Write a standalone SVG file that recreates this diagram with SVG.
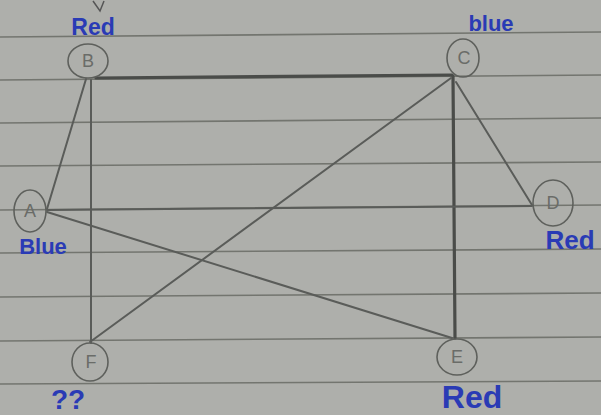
<svg xmlns="http://www.w3.org/2000/svg" width="601" height="415" viewBox="0 0 601 415">
<defs>
<style>
.paper{fill:#aeafab}
.rule{stroke:#73756f;stroke-width:1.6}
.edge{stroke:#5a5c59;stroke-width:2;stroke-linecap:round;fill:none}
.thick{stroke:#4a4c49;stroke-width:3.2}
.node circle,.node ellipse{fill:none;stroke:#5e605c;stroke-width:1.6}
.node text{font-family:"Liberation Sans",Arial,sans-serif;font-size:18px;fill:#6a6c68;text-anchor:middle}
.lbl{font-family:"Liberation Sans",Arial,sans-serif;fill:#2a3bb5;font-weight:bold}
</style>
</defs>
<rect class="paper" x="0" y="0" width="601" height="415"/>
<g id="rules">
<line class="rule" x1="0" y1="37" x2="601" y2="32"/>
<line class="rule" x1="0" y1="80" x2="601" y2="75"/>
<line class="rule" x1="0" y1="123" x2="601" y2="118"/>
<line class="rule" x1="0" y1="166" x2="601" y2="162"/>
<line class="rule" x1="0" y1="210" x2="601" y2="205"/>
<line class="rule" x1="0" y1="253" x2="601" y2="249"/>
<line class="rule" x1="0" y1="297" x2="601" y2="293"/>
<line class="rule" x1="0" y1="341" x2="601" y2="337"/>
<line class="rule" x1="0" y1="384" x2="601" y2="381"/>
</g>
<path d="M93 1 L100 11 L104 1" fill="none" stroke="#555" stroke-width="1.5"/>
<g id="connectors">
<line class="edge thick" x1="96" y1="78" x2="452" y2="75"/>
<line class="edge" x1="86" y1="79" x2="47" y2="209"/>
<line class="edge" x1="91" y1="80" x2="91" y2="343"/>
<line class="edge thick" x1="453" y1="76" x2="455" y2="338"/>
<line class="edge" x1="456" y1="82" x2="532" y2="205"/>
<line class="edge" x1="451" y1="78" x2="90" y2="342"/>
<line class="edge" x1="47" y1="210" x2="532" y2="206"/>
<line class="edge" x1="47" y1="212" x2="452" y2="338"/>
</g>
<g id="node-B" class="node"><ellipse cx="88" cy="61" rx="20" ry="17"/><text x="88" y="67">B</text></g>
<g id="node-C" class="node"><ellipse cx="463" cy="58" rx="16" ry="19"/><text x="464" y="64">C</text></g>
<g id="node-A" class="node"><ellipse cx="30" cy="211" rx="16" ry="21"/><text x="30" y="217">A</text></g>
<g id="node-D" class="node"><ellipse cx="553" cy="203" rx="20" ry="23"/><text x="553" y="209">D</text></g>
<g id="node-F" class="node"><ellipse cx="90" cy="362" rx="18" ry="19"/><text x="91" y="368">F</text></g>
<g id="node-E" class="node"><ellipse cx="457" cy="357" rx="20" ry="18"/><text x="457" y="363">E</text></g>
<g id="labels">
<text class="lbl" x="93" y="35" font-size="23" text-anchor="middle">Red</text>
<text class="lbl" x="491" y="31" font-size="22" text-anchor="middle">blue</text>
<text class="lbl" x="43" y="254" font-size="22" text-anchor="middle">Blue</text>
<text class="lbl" x="570" y="249" font-size="26" text-anchor="middle">Red</text>
<text class="lbl" x="68" y="409" font-size="28" text-anchor="middle">??</text>
<text class="lbl" x="472" y="408" font-size="32" text-anchor="middle">Red</text>
</g>
</svg>
